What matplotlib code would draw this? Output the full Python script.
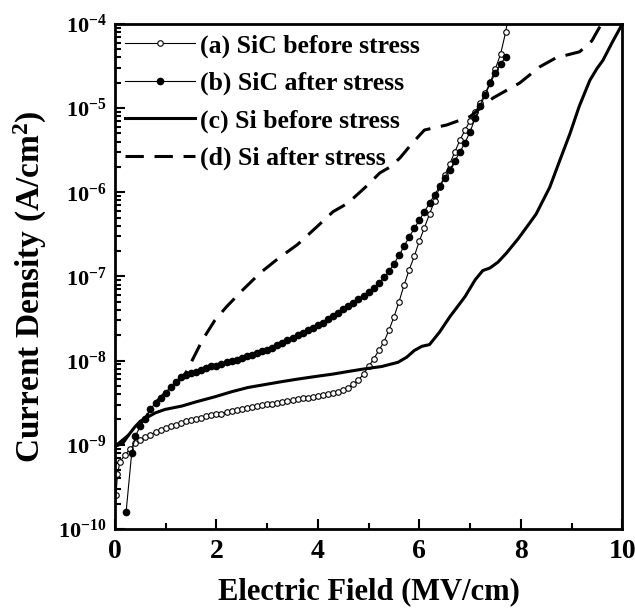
import matplotlib
matplotlib.use("Agg")
import matplotlib.pyplot as plt
from matplotlib.ticker import LogLocator, MultipleLocator, LogFormatterMathtext
import numpy as np

plt.rcParams['font.family'] = ['Liberation Serif', 'DejaVu Serif']
plt.rcParams['font.weight'] = 'bold'
plt.rcParams['mathtext.fontset'] = 'custom'
plt.rcParams['mathtext.rm'] = 'Liberation Serif:bold'
plt.rcParams['mathtext.bf'] = 'Liberation Serif:bold'
plt.rcParams['mathtext.default'] = 'rm'

# (a) SiC before stress -- field (MV/cm) and log10 of current density (A/cm^2)
field_a = [0.02, 0.05, 0.1, 0.2, 0.3, 0.4, 0.5, 0.6, 0.7, 0.8, 0.9,
           1.0, 1.1, 1.2, 1.3, 1.4, 1.5, 1.6, 1.7, 1.8, 1.9,
           2.0, 2.1, 2.2, 2.3, 2.4, 2.5, 2.6, 2.7, 2.8, 2.9,
           3.0, 3.1, 3.2, 3.3, 3.4, 3.5, 3.6, 3.7, 3.8, 3.9,
           4.0, 4.1, 4.2, 4.3, 4.4, 4.5, 4.6, 4.7, 4.8, 4.9,
           5.0, 5.1, 5.2, 5.3, 5.4, 5.5, 5.6, 5.7, 5.8, 5.9,
           6.0, 6.1, 6.2, 6.3, 6.4, 6.5, 6.6, 6.7, 6.8, 6.9,
           7.0, 7.1, 7.2, 7.3, 7.4, 7.5, 7.6, 7.7, 7.74]
logj_a = [-9.6, -9.35, -9.2, -9.12, -9.05, -8.98, -8.94, -8.91, -8.88, -8.85, -8.83,
          -8.80, -8.78, -8.76, -8.74, -8.72, -8.71, -8.69, -8.68, -8.66, -8.65,
          -8.64, -8.63, -8.61, -8.60, -8.59, -8.58, -8.56, -8.55, -8.54, -8.53,
          -8.52, -8.51, -8.50, -8.49, -8.48, -8.47, -8.46, -8.45, -8.44, -8.43,
          -8.42, -8.41, -8.40, -8.38, -8.37, -8.35, -8.32, -8.28, -8.23, -8.16,
          -8.07, -7.98, -7.88, -7.78, -7.64, -7.48, -7.30, -7.10, -6.92, -6.76,
          -6.58, -6.42, -6.26, -6.10, -5.94, -5.80, -5.66, -5.52, -5.38, -5.26,
          -5.15, -5.05, -4.94, -4.82, -4.69, -4.53, -4.36, -4.10, -3.95]

# (b) SiC after stress
field_b = [0.22, 0.33, 0.4, 0.5, 0.6, 0.7, 0.8, 0.9,
           1.0, 1.1, 1.2, 1.3, 1.4, 1.5, 1.6, 1.7, 1.8, 1.9,
           2.0, 2.1, 2.2, 2.3, 2.4, 2.5, 2.6, 2.7, 2.8, 2.9,
           3.0, 3.1, 3.2, 3.3, 3.4, 3.5, 3.6, 3.7, 3.8, 3.9,
           4.0, 4.1, 4.2, 4.3, 4.4, 4.5, 4.6, 4.7, 4.8, 4.9,
           5.0, 5.1, 5.2, 5.3, 5.4, 5.5, 5.6, 5.7, 5.8, 5.9,
           6.0, 6.1, 6.2, 6.3, 6.4, 6.5, 6.6, 6.7, 6.8, 6.9,
           7.0, 7.1, 7.2, 7.3, 7.4, 7.5, 7.6, 7.7]
logj_b = [-9.8, -9.1, -8.9, -8.78, -8.69, -8.58, -8.50, -8.44,
          -8.38, -8.31, -8.25, -8.20, -8.17, -8.15, -8.13, -8.11, -8.09, -8.07,
          -8.06, -8.04, -8.02, -8.01, -7.99, -7.97, -7.95, -7.93, -7.91, -7.89,
          -7.87, -7.85, -7.82, -7.79, -7.76, -7.73, -7.70, -7.67, -7.64, -7.61,
          -7.58, -7.55, -7.51, -7.47, -7.43, -7.39, -7.35, -7.31, -7.27, -7.23,
          -7.19, -7.14, -7.08, -7.01, -6.94, -6.85, -6.75, -6.64, -6.53, -6.43,
          -6.33, -6.23, -6.13, -6.03, -5.93, -5.83, -5.73, -5.63, -5.52, -5.41,
          -5.28, -5.12, -4.97, -4.84, -4.70, -4.58, -4.48, -4.39]

# (c) Si before stress
field_c = [0.0, 0.16, 0.25, 0.39, 0.5, 0.65, 0.8, 0.99, 1.32, 1.6, 1.97, 2.3,
           2.62, 3.0, 3.29, 3.6, 3.94, 4.3, 4.59, 4.9, 5.26, 5.58, 5.75, 5.9,
           6.05, 6.2, 6.4, 6.6, 6.9, 7.1, 7.25, 7.39, 7.55, 7.72, 7.95, 8.12,
           8.3, 8.57, 8.75, 8.97, 9.15, 9.36, 9.5, 9.62, 9.8, 10.0]
logj_c = [-9.02, -8.98, -8.9, -8.79, -8.72, -8.67, -8.62, -8.58, -8.54, -8.49, -8.43, -8.37,
          -8.32, -8.28, -8.25, -8.22, -8.19, -8.16, -8.13, -8.10, -8.07, -8.02, -7.96, -7.88,
          -7.83, -7.81, -7.66, -7.48, -7.24, -7.04, -6.93, -6.90, -6.83, -6.72, -6.55, -6.41,
          -6.26, -5.94, -5.65, -5.30, -4.98, -4.67, -4.53, -4.43, -4.22, -4.0]

# (d) Si after stress
field_d = [0.0, 0.2, 0.4, 0.6, 0.8, 1.0, 1.2, 1.35, 1.52, 1.73, 1.97, 2.2,
           2.52, 2.86, 3.19, 3.6, 3.98, 4.3, 4.59, 4.99, 5.22, 5.45, 5.62, 5.87,
           6.1, 6.54, 7.0, 7.45, 7.98, 8.37, 8.7, 8.9, 9.16, 9.4, 9.55, 9.62]
logj_d = [-9.02, -8.92, -8.82, -8.68, -8.5, -8.38, -8.26, -8.2, -8.0, -7.75, -7.52, -7.36,
          -7.16, -6.96, -6.8, -6.62, -6.41, -6.23, -6.13, -5.91, -5.77, -5.69, -5.59, -5.41,
          -5.26, -5.2, -5.1, -4.88, -4.7, -4.51, -4.4, -4.37, -4.33, -4.2, -4.04, -3.98]

labels = ['(a) SiC before stress', '(b) SiC after stress',
          '(c) Si before stress', '(d) Si after stress']

fig = plt.figure(figsize=(6.35, 6.15), dpi=100)
ax = fig.add_axes([0.181, 0.14, 0.799, 0.821])

ax.plot(field_a, 10 ** np.array(logj_a), '-', color='black', lw=0.8,
        marker='o', ms=4, mfc='white', mec='black', mew=0.8, label=labels[0])
ax.plot(field_b, 10 ** np.array(logj_b), '-', color='black', lw=0.8,
        marker='o', ms=4.5, mfc='black', mec='black', label=labels[1])
ax.plot(field_c, 10 ** np.array(logj_c), '-', color='black', lw=2.2, label=labels[2])
ax.plot(field_d, 10 ** np.array(logj_d), '--', color='black', lw=2.2,
        dashes=(6, 3.5), label=labels[3])

ax.set_yscale('log')
ax.set_xlim(0, 10)
ax.set_ylim(1e-10, 1e-4)

ax.xaxis.set_major_locator(MultipleLocator(2))
ax.xaxis.set_minor_locator(MultipleLocator(1))
ax.yaxis.set_major_locator(LogLocator(base=10))
ax.yaxis.set_minor_locator(LogLocator(base=10, subs=np.arange(2, 10)))
ax.yaxis.set_major_formatter(LogFormatterMathtext())

ax.tick_params(which='both', direction='in', width=1.5, top=False, right=False)
ax.tick_params(which='major', length=7)
ax.tick_params(which='minor', length=4)
ax.tick_params(axis='x', labelsize=20, pad=7)
ax.tick_params(axis='y', labelsize=16, pad=6)
for sp in ax.spines.values():
    sp.set_linewidth(2)

ax.set_xlabel('Electric Field (MV/cm)', fontsize=22, fontweight='bold', labelpad=10)
ax.set_ylabel('Current Density (A/cm$^2$)', fontsize=24, fontweight='bold')
ax.yaxis.set_label_coords(-0.13, 0.48)

ax.legend(loc='upper left', frameon=False, fontsize=18.5, numpoints=1,
          handlelength=2.7, handletextpad=0.2, labelspacing=0.55,
          borderaxespad=0.2, borderpad=0.2)

fig.savefig('out.png', dpi=100)
